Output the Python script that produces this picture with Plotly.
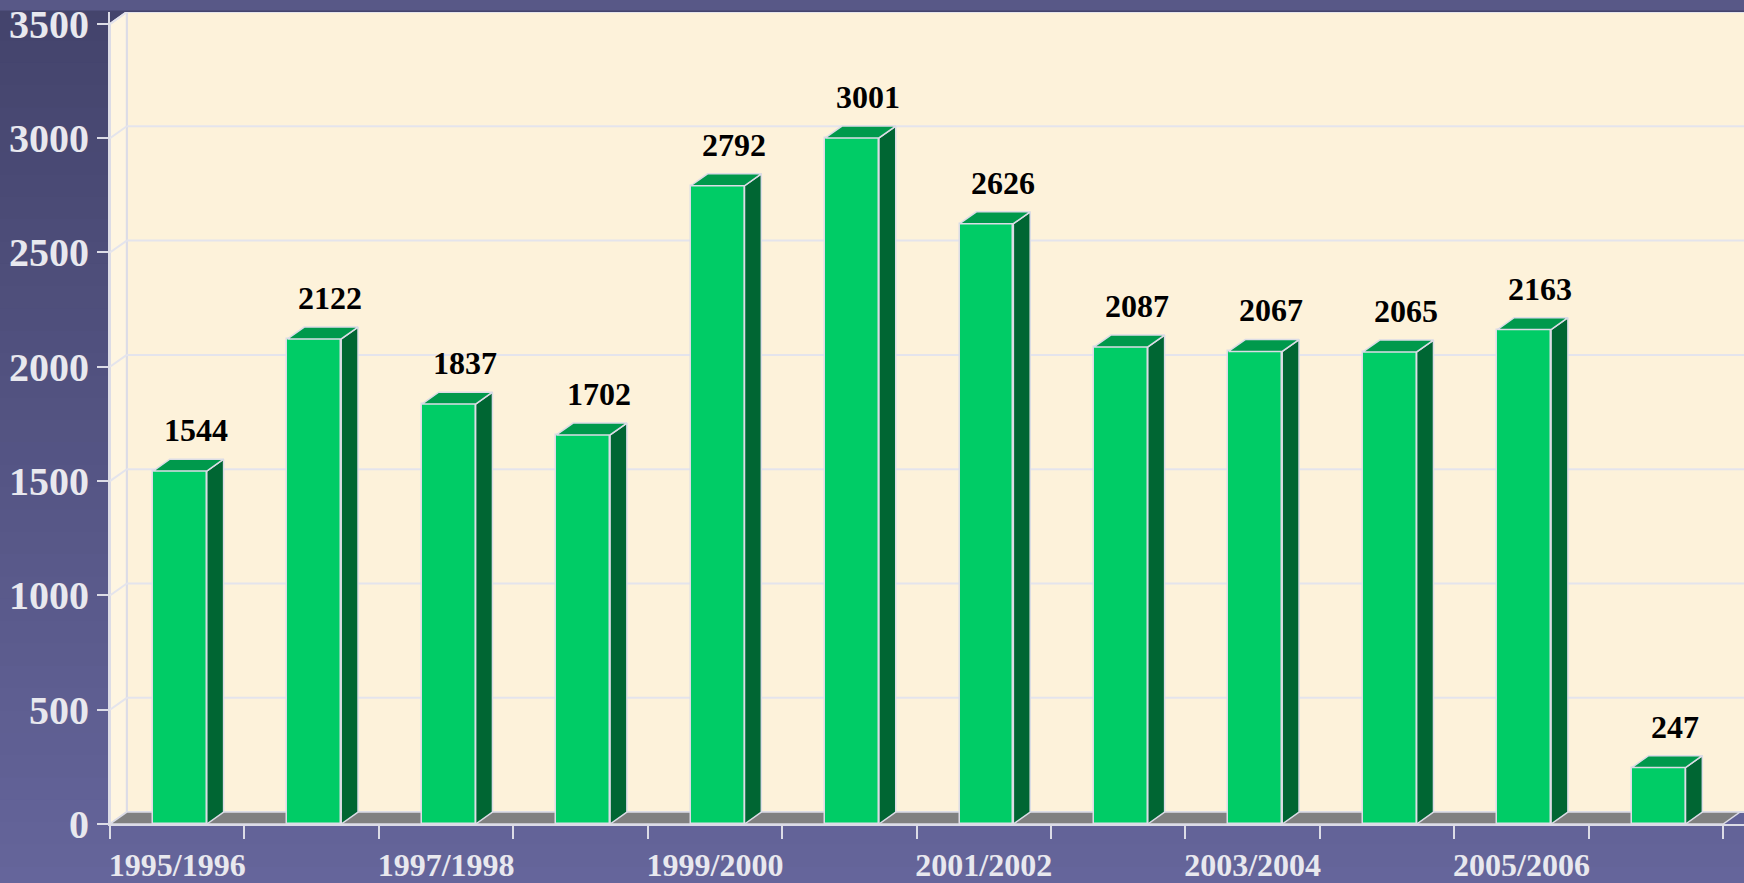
import plotly.graph_objects as go
import numpy as np

# ---------------- data ----------------
seasons = ["1995/1996", "1996/1997", "1997/1998", "1998/1999", "1999/2000", "2000/2001",
           "2001/2002", "2002/2003", "2003/2004", "2004/2005", "2005/2006", "2006/2007"]
values = [1544, 2122, 1837, 1702, 2792, 3001, 2626, 2087, 2067, 2065, 2163, 247]
y_ticks = [0, 500, 1000, 1500, 2000, 2500, 3000, 3500]

# ---------------- style ----------------
W, H = 1744, 883
FRONT = "#00CC66"
SIDE = "#006633"
TOP = "#00994C"
FLOOR = "#808080"
WALL = "#FDF2DA"
SIDEWALL = "#FEF5E1"
EDGE = "#DCDCE6"
GRID = "#E4E4EC"
TXT = "#E8E8EE"
FONT = "Liberation Serif, Times New Roman, serif"

BAR_W = 0.4
DX = 0.125      # depth offset in category units
DY = 52         # depth offset in value units
YMAX = y_ticks[-1]
X0 = -0.5
X1 = len(seasons) - 0.5

fig = go.Figure()

# front faces of bars
idx = list(range(len(seasons)))
fig.add_trace(go.Bar(
    x=idx, y=values, width=BAR_W, offset=-BAR_W / 2 + 0.02,
    marker=dict(color=FRONT, line=dict(color=EDGE, width=1.5)),
    hoverinfo="skip", showlegend=False))

# side and top faces (3D look), derived from values
for i, v in enumerate(values):
    l = i - BAR_W / 2 + 0.02
    r = l + BAR_W
    fig.add_trace(go.Scatter(
        x=[r, r + DX, r + DX, r, r], y=[0, DY, v + DY, v, 0],
        fill="toself", fillcolor=SIDE, mode="lines",
        line=dict(color=EDGE, width=1.5), hoverinfo="skip", showlegend=False))
    fig.add_trace(go.Scatter(
        x=[l, r, r + DX, l + DX, l], y=[v, v, v + DY, v + DY, v],
        fill="toself", fillcolor=TOP, mode="lines",
        line=dict(color=EDGE, width=1.5), hoverinfo="skip", showlegend=False))

shapes = []
# slide background gradient
top_c = np.array([68, 68, 108])
bot_c = np.array([101, 101, 155])
nb = 40
for k in range(nb):
    c = top_c + (bot_c - top_c) * k / (nb - 1)
    shapes.append(dict(type="rect", xref="paper", yref="paper", layer="below",
                       x0=-0.1, x1=1.1,
                       y1=1.02 - k * 1.1 / nb, y0=1.02 - (k + 1) * 1.1 / nb - 0.002,
                       fillcolor="rgb(%d,%d,%d)" % tuple(c), line=dict(width=0)))
# decorative strip at the very top of the slide
shapes.append(dict(type="rect", xref="paper", yref="paper", layer="below",
                   x0=-0.1, x1=1.1, y0=1.002, y1=1.02,
                   fillcolor="rgb(88,88,135)", line=dict(width=0)))

# back wall
shapes.append(dict(type="rect", xref="x", yref="y", layer="below",
                   x0=X0 + DX, x1=X1 + DX + 0.2, y0=DY, y1=YMAX + DY,
                   fillcolor=WALL, line=dict(color=EDGE, width=2)))
# left wall
shapes.append(dict(type="path", xref="x", yref="y", layer="below",
                   path="M %f,%f L %f,%f L %f,%f L %f,%f Z" % (X0, 0, X0, YMAX, X0 + DX, YMAX + DY, X0 + DX, DY),
                   fillcolor=SIDEWALL, line=dict(color=EDGE, width=2)))
# gridlines on walls
for t in y_ticks[1:]:
    shapes.append(dict(type="line", xref="x", yref="y", layer="below",
                       x0=X0 + DX, x1=X1 + DX + 0.2, y0=t + DY, y1=t + DY,
                       line=dict(color=GRID, width=2)))
    shapes.append(dict(type="line", xref="x", yref="y", layer="below",
                       x0=X0, x1=X0 + DX, y0=t, y1=t + DY,
                       line=dict(color=GRID, width=2)))
# floor
shapes.append(dict(type="path", xref="x", yref="y", layer="below",
                   path="M %f,%f L %f,%f L %f,%f L %f,%f Z" % (X0, 0, X1, 0, X1 + DX, DY, X0 + DX, DY),
                   fillcolor=FLOOR, line=dict(color=EDGE, width=1.5)))

# data labels
annotations = []
for i, v in enumerate(values):
    annotations.append(dict(x=i + 0.14, y=v, xref="x", yref="y", yshift=41,
                            text=str(v), showarrow=False,
                            font=dict(family=FONT, size=32, color="black", weight="bold")))

fig.update_layout(
    width=W, height=H,
    margin=dict(l=110, r=0, t=12, b=54),
    paper_bgcolor="rgb(101,101,155)",
    plot_bgcolor="rgba(0,0,0,0)",
    shapes=shapes,
    annotations=annotations,
    bargap=0,
    xaxis=dict(
        range=[X0, X1 + DX + 0.03],
        tickmode="array", tickvals=idx[::2], ticktext=seasons[::2],
        ticks="outside", ticklen=12, tickcolor="rgba(0,0,0,0)",
        minor=dict(tickmode="array", tickvals=[k - 0.5 for k in range(len(seasons) + 1)],
                   ticks="outside", ticklen=13, tickwidth=2, tickcolor=EDGE, showgrid=False),
        tickfont=dict(family=FONT, size=32, color=TXT, weight="bold"),
        showline=True, linecolor=EDGE, linewidth=2,
        showgrid=False, zeroline=False, fixedrange=True),
    yaxis=dict(
        range=[0, YMAX + DY],
        tickmode="array", tickvals=y_ticks,
        ticks="outside", ticklen=11, tickwidth=2, tickcolor=EDGE,
        tickfont=dict(family=FONT, size=40, color=TXT, weight="bold"),
        showline=True, linecolor=EDGE, linewidth=2,
        showgrid=False, zeroline=False, fixedrange=True),
)

fig.write_html("out.html", config={"displayModeBar": False},
               post_script="document.body.style.margin='0';document.body.style.overflow='hidden';")
